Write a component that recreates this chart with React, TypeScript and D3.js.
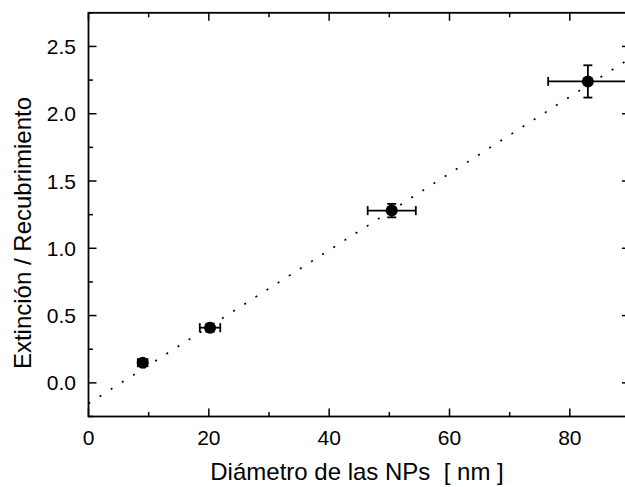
import React from "react";
import * as d3 from "d3";

const diameters = [9.0, 20.2, 50.4, 83.0];
const ratios = [0.15, 0.41, 1.28, 2.24];
const diamErr = [0.8, 1.7, 4.0, 6.6];
const ratioErr = [0.02, 0.03, 0.05, 0.12];
const fitSlope = 0.0285;
const fitIntercept = -0.154;
const xMajorTicks = [0, 20, 40, 60, 80];
const xMinorTicks = [10, 30, 50, 70, 90];
const yMajorTicks = [0, 0.5, 1.0, 1.5, 2.0, 2.5];
const yMinorTicks = [-0.25, 0.25, 0.75, 1.25, 1.75, 2.25, 2.75];
const xTitle = "Diámetro de las NPs\u00a0\u00a0[ nm ]";
const yTitle = "Extinción / Recubrimiento";

const W = 625, H = 487;
const L = 88.5, R = 630, T = 12.8, B = 416.5;
const FONT = "'Liberation Sans', Arial, sans-serif";

export default function App() {
  const x = d3.scaleLinear().domain([0, 90]).range([L, R]);
  const y = d3.scaleLinear().domain([-0.25, 2.75]).range([B, T]);
  const fit = d3.line<number>().x(d => x(d)).y(d => y(fitIntercept + fitSlope * d));
  const maj = 8, min = 4.5;
  return (
    <svg width={W} height={H} style={{ position: "absolute", left: 0, top: 0, background: "#fff" }} fontFamily={FONT}>
      <defs>
        <clipPath id="plot"><rect x={L} y={T} width={R - L} height={B - T} /></clipPath>
      </defs>
      <path d={fit([0, 90]) || ""} fill="none" stroke="#000" strokeWidth={1.7} strokeDasharray="2 11.2" clipPath="url(#plot)" />
      {diameters.map((d, i) => {
        const cx = x(d), cy = y(ratios[i]);
        const x0 = x(d - diamErr[i]), x1 = x(d + diamErr[i]);
        const y0 = y(ratios[i] - ratioErr[i]), y1 = y(ratios[i] + ratioErr[i]);
        const cap = 4.5;
        return (
          <g key={i} stroke="#000" strokeWidth={1.8}>
            <line x1={x0} x2={x1} y1={cy} y2={cy} />
            <line x1={x0} x2={x0} y1={cy - cap} y2={cy + cap} />
            <line x1={x1} x2={x1} y1={cy - cap} y2={cy + cap} />
            <line x1={cx} x2={cx} y1={y0} y2={y1} />
            <line x1={cx - cap} x2={cx + cap} y1={y0} y2={y0} />
            <line x1={cx - cap} x2={cx + cap} y1={y1} y2={y1} />
            <circle cx={cx} cy={cy} r={6} fill="#000" stroke="none" />
          </g>
        );
      })}
      <rect x={L} y={T} width={R - L} height={B - T} fill="none" stroke="#000" strokeWidth={1.8} />
      <g stroke="#000" strokeWidth={1.5}>
        {xMajorTicks.map(t => (
          <g key={"xm" + t}>
            <line x1={x(t)} x2={x(t)} y1={B} y2={B - maj} />
            <line x1={x(t)} x2={x(t)} y1={T} y2={T + maj} />
          </g>
        ))}
        {xMinorTicks.map(t => (
          <g key={"xn" + t}>
            <line x1={x(t)} x2={x(t)} y1={B} y2={B - min} />
            <line x1={x(t)} x2={x(t)} y1={T} y2={T + min} />
          </g>
        ))}
        {yMajorTicks.map(t => (
          <g key={"ym" + t}>
            <line x1={L} x2={L + maj} y1={y(t)} y2={y(t)} />
            <line x1={R} x2={R - maj} y1={y(t)} y2={y(t)} />
          </g>
        ))}
        {yMinorTicks.map(t => (
          <g key={"yn" + t}>
            <line x1={L} x2={L + min} y1={y(t)} y2={y(t)} />
            <line x1={R} x2={R - min} y1={y(t)} y2={y(t)} />
          </g>
        ))}
      </g>
      <g fontSize={21} fill="#000">
        {xMajorTicks.map(t => (
          <text key={"xl" + t} x={x(t)} y={445} textAnchor="middle">{t}</text>
        ))}
        {yMajorTicks.map(t => (
          <text key={"yl" + t} x={76} y={y(t)} dy="0.36em" textAnchor="end">{t.toFixed(1)}</text>
        ))}
      </g>
      <text x={357} y={480} textAnchor="middle" fontSize={24} fill="#000">{xTitle}</text>
      <text transform={`translate(31,${233}) rotate(-90)`} textAnchor="middle" fontSize={24} fill="#000">{yTitle}</text>
    </svg>
  );
}
